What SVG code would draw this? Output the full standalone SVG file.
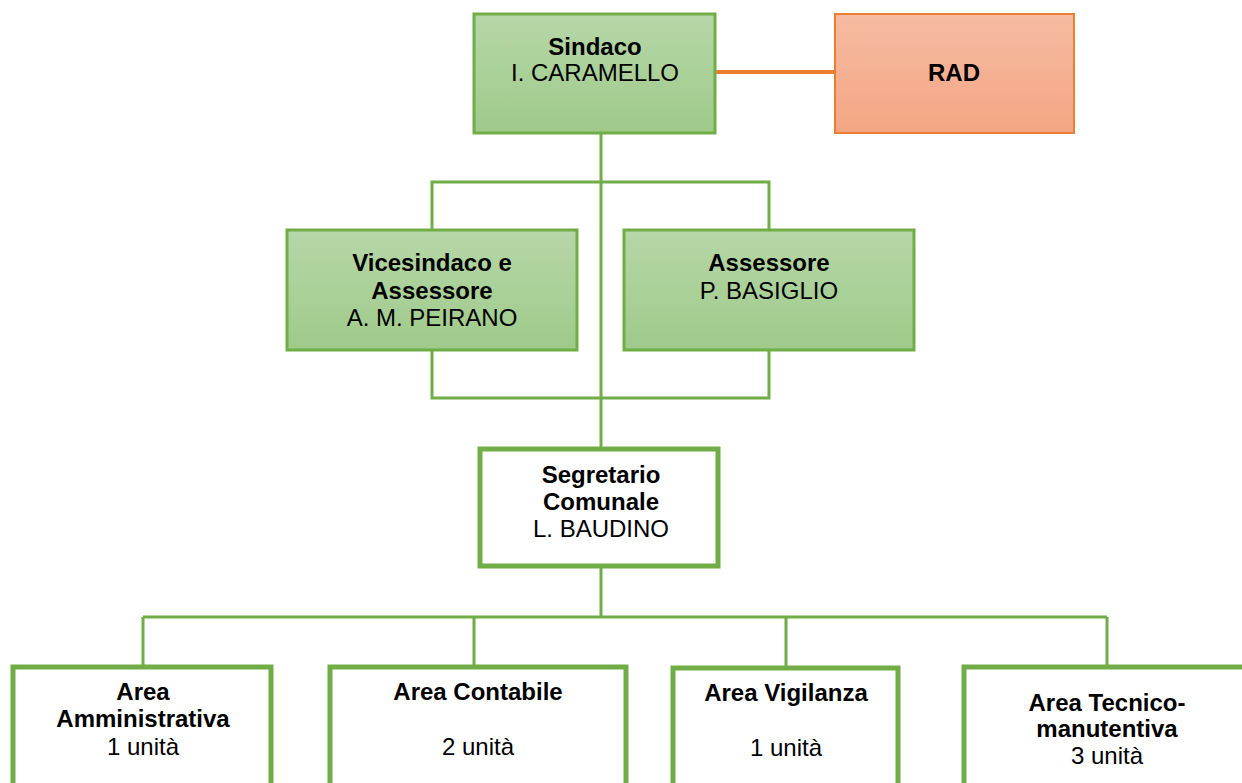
<svg xmlns="http://www.w3.org/2000/svg" width="1242" height="783" viewBox="0 0 1242 783">
<defs>
<linearGradient id="gG" x1="0" y1="0" x2="0" y2="1"><stop offset="0" stop-color="#b6d7a8"/><stop offset="1" stop-color="#9fca8a"/></linearGradient>
<linearGradient id="gO" x1="0" y1="0" x2="0" y2="1"><stop offset="0" stop-color="#f6bba2"/><stop offset="1" stop-color="#f4a683"/></linearGradient>
<style>
text{font-family:"Liberation Sans",Arial,sans-serif;font-size:24px;fill:#000;text-anchor:middle}
.b{font-weight:bold}
.gbox{fill:url(#gG);stroke:#70ad47;stroke-width:3}
.obox{fill:url(#gO);stroke:#ed7d31;stroke-width:2}
.wbox{fill:#fff;stroke:#70ad47;stroke-width:5}
.ln{fill:none;stroke:#70ad47;stroke-width:3}
.oln{fill:none;stroke:#ed7d31;stroke-width:4}
</style>
</defs>
<g id="connectors">
<line class="oln" x1="715" y1="72" x2="835" y2="72"/>
<line class="ln" x1="601" y1="133" x2="601" y2="447"/>
<polyline class="ln" points="432,230 432,182 769,182 769,230"/>
<polyline class="ln" points="432,350 432,398 769,398 769,350"/>
<line class="ln" x1="601" y1="568" x2="601" y2="617"/>
<line class="ln" x1="143" y1="617" x2="1107" y2="617"/>
<line class="ln" x1="143" y1="617" x2="143" y2="665"/>
<line class="ln" x1="474" y1="617" x2="474" y2="665"/>
<line class="ln" x1="786" y1="617" x2="786" y2="666"/>
<line class="ln" x1="1107" y1="617" x2="1107" y2="665"/>
</g>
<g id="sindaco">
<rect class="gbox" x="474" y="14" width="241" height="119"/>
<text class="b" x="595" y="55">Sindaco</text>
<text x="595" y="81">I. CARAMELLO</text>
</g>
<g id="rad">
<rect class="obox" x="835" y="14" width="239" height="119"/>
<text class="b" x="954" y="81">RAD</text>
</g>
<g id="vicesindaco">
<rect class="gbox" x="287" y="230" width="290" height="120"/>
<text class="b" x="432" y="271">Vicesindaco e</text>
<text class="b" x="432" y="299">Assessore</text>
<text x="432" y="326">A. M. PEIRANO</text>
</g>
<g id="assessore">
<rect class="gbox" x="624" y="230" width="290" height="120"/>
<text class="b" x="769" y="271">Assessore</text>
<text x="769" y="299">P. BASIGLIO</text>
</g>
<g id="segretario">
<rect class="wbox" x="480" y="449" width="238" height="117"/>
<text class="b" x="601" y="483">Segretario</text>
<text class="b" x="601" y="510">Comunale</text>
<text x="601" y="537">L. BAUDINO</text>
</g>
<g id="area-amministrativa">
<rect class="wbox" x="13" y="667" width="258" height="130"/>
<text class="b" x="143" y="700">Area</text>
<text class="b" x="143" y="727">Amministrativa</text>
<text x="143" y="755">1 unità</text>
</g>
<g id="area-contabile">
<rect class="wbox" x="330" y="667" width="296" height="130"/>
<text class="b" x="478" y="700">Area Contabile</text>
<text x="478" y="755">2 unità</text>
</g>
<g id="area-vigilanza">
<rect class="wbox" x="673" y="668" width="225" height="130"/>
<text class="b" x="786" y="701">Area Vigilanza</text>
<text x="786" y="756">1 unità</text>
</g>
<g id="area-tecnico">
<rect class="wbox" x="964" y="667" width="290" height="130"/>
<text class="b" x="1107" y="711">Area Tecnico-</text>
<text class="b" x="1107" y="737">manutentiva</text>
<text x="1107" y="764">3 unità</text>
</g>
</svg>
